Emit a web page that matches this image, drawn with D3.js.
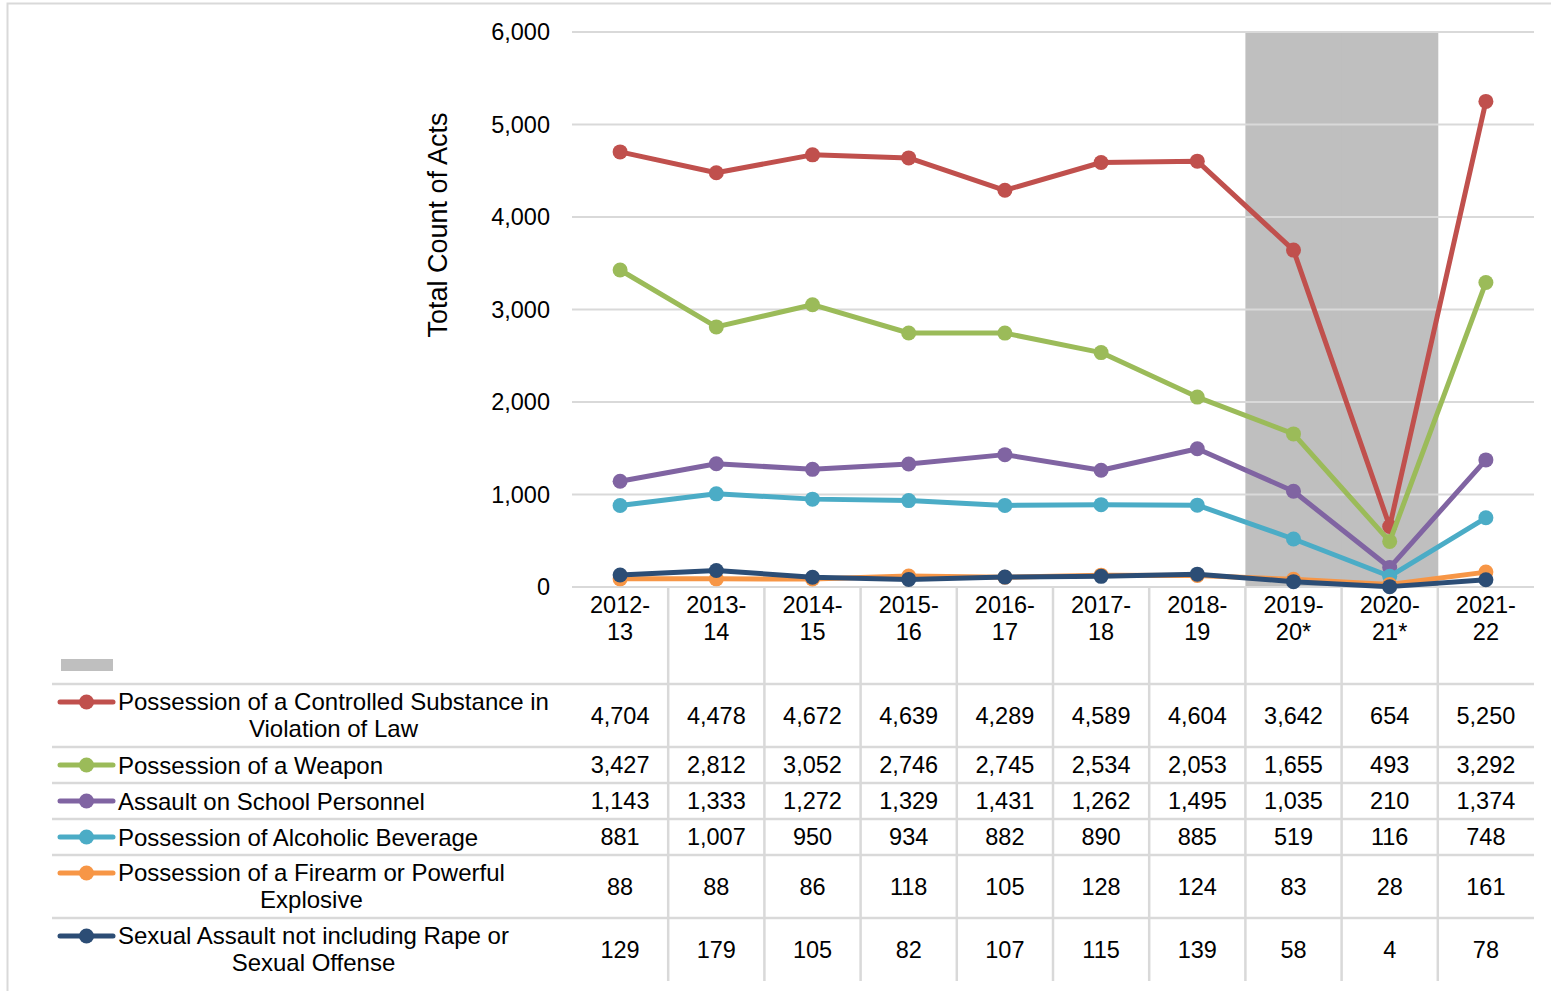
<!DOCTYPE html>
<html>
<head>
<meta charset="utf-8">
<title>Disciplinary acts by school year</title>
<script src="https://d3js.org/d3.v7.min.js"></script>
<style>
  body { margin: 0; background: #fff; }
  svg text { font-family: "Liberation Sans", Arial, sans-serif; fill: #000; }
</style>
</head>
<body>
<svg width="1551" height="991"></svg>
<script>
// school years (x categories)
var years = ["2012-13", "2013-14", "2014-15", "2015-16", "2016-17",
             "2017-18", "2018-19", "2019-20*", "2020-21*", "2021-22"];

// series names
var names = [
  "Possession of a Controlled Substance in Violation of Law",
  "Possession of a Weapon",
  "Assault on School Personnel",
  "Possession of Alcoholic Beverage",
  "Possession of a Firearm or Powerful Explosive",
  "Sexual Assault not including Rape or Sexual Offense"
];

// series values
var substance = [4704, 4478, 4672, 4639, 4289, 4589, 4604, 3642, 654, 5250];
var weapon    = [3427, 2812, 3052, 2746, 2745, 2534, 2053, 1655, 493, 3292];
var assault   = [1143, 1333, 1272, 1329, 1431, 1262, 1495, 1035, 210, 1374];
var alcohol   = [881, 1007, 950, 934, 882, 890, 885, 519, 116, 748];
var firearm   = [88, 88, 86, 118, 105, 128, 124, 83, 28, 161];
var sexual    = [129, 179, 105, 82, 107, 115, 139, 58, 4, 78];

// gray shaded bar series (COVID years)
var shaded = [0, 0, 0, 0, 0, 0, 0, 6000, 6000, 0];

var yTicks = [0, 1000, 2000, 3000, 4000, 5000, 6000];

var colors = ["#C0504D", "#9BBB59", "#8064A2", "#4BACC6", "#F79646", "#2C4D75"];
var series = [substance, weapon, assault, alcohol, firearm, sexual];

var svg = d3.select("svg");
var grid = "#D9D9D9";
var fs = 23.5;
var labFs = 24;

// outer chart border
svg.append("rect")
    .attr("x", 7.5).attr("y", 3.5)
    .attr("width", 1600).attr("height", 1100)
    .attr("fill", "none").attr("stroke", grid).attr("stroke-width", 2);

var x = d3.scaleBand().domain(years).range([572, 1534]).padding(0);
var y = d3.scaleLinear().domain([0, 6000]).range([587, 32]);

// shaded bars
svg.append("g").selectAll("rect")
  .data(years.map(function(d, i) { return {year: d, v: shaded[i]}; }).filter(function(d) { return d.v > 0; }))
  .enter().append("rect")
    .attr("x", function(d) { return x(d.year); })
    .attr("y", function(d) { return y(d.v); })
    .attr("width", x.bandwidth() + 0.5)
    .attr("height", function(d) { return y(0) - y(d.v); })
    .attr("fill", "#BFBFBF");

// gridlines
svg.append("g").selectAll("line")
  .data(yTicks)
  .enter().append("line")
    .attr("x1", 572).attr("x2", 1534)
    .attr("y1", function(d) { return y(d); })
    .attr("y2", function(d) { return y(d); })
    .attr("stroke", grid).attr("stroke-width", 2);

// y tick labels
svg.append("g").selectAll("text")
  .data(yTicks)
  .enter().append("text")
    .attr("x", 550)
    .attr("y", function(d) { return y(d); })
    .attr("dy", "0.35em")
    .attr("text-anchor", "end")
    .style("font-size", fs + "px")
    .text(d3.format(","));

// y axis title
svg.append("text")
    .attr("transform", "translate(447,225) rotate(-90)")
    .attr("text-anchor", "middle")
    .style("font-size", "27px")
    .text("Total Count of Acts");

// category labels
var cat = svg.append("g").selectAll("text")
  .data(years)
  .enter().append("text")
    .attr("text-anchor", "middle")
    .style("font-size", fs + "px");
cat.append("tspan")
    .attr("x", function(d) { return x(d) + x.bandwidth() / 2; })
    .attr("y", 613)
    .text(function(d) { return d.split("-")[0] + "-"; });
cat.append("tspan")
    .attr("x", function(d) { return x(d) + x.bandwidth() / 2; })
    .attr("y", 640)
    .text(function(d) { return d.split("-")[1]; });

// ---- data table ----
var tbl = svg.append("g");

// legend key for shaded series
tbl.append("rect")
    .attr("x", 61).attr("y", 659)
    .attr("width", 52).attr("height", 12)
    .attr("fill", "#BFBFBF");

// wrap labels into lines
var measure = svg.append("text").style("font-size", labFs + "px");
function wrap(str, maxW) {
  var words = str.split(" "), lines = [], cur = "";
  words.forEach(function(w) {
    var t = cur ? cur + " " + w : w;
    measure.text(t);
    if (measure.node().getComputedTextLength() > maxW && cur) {
      lines.push(cur);
      cur = w;
    } else cur = t;
  });
  lines.push(cur);
  return lines;
}

var rowTop = 684;
var rows = names.map(function(n) {
  var lines = wrap(n, 445);
  var h = 36 + 27 * (lines.length - 1);
  var r = {lines: lines, y0: rowTop, h: h};
  rowTop += h;
  return r;
});
measure.remove();
var tableBottom = rowTop;

// horizontal lines
var hl = [684].concat(rows.map(function(r) { return r.y0 + r.h; }));
tbl.selectAll("line.h")
  .data(hl.slice(0, hl.length - 1))
  .enter().append("line")
    .attr("class", "h")
    .attr("x1", 52).attr("x2", 1534)
    .attr("y1", function(d) { return d; })
    .attr("y2", function(d) { return d; })
    .attr("stroke", grid).attr("stroke-width", 2.5);

// vertical lines
tbl.selectAll("line.v")
  .data(years.slice(1))
  .enter().append("line")
    .attr("class", "v")
    .attr("x1", function(d) { return x(d); })
    .attr("x2", function(d) { return x(d); })
    .attr("y1", 587).attr("y2", tableBottom)
    .attr("stroke", grid).attr("stroke-width", 2.5);

rows.forEach(function(r, k) {
  var firstY = r.y0 + 18;
  // legend key
  tbl.append("line")
      .attr("x1", 60).attr("x2", 113)
      .attr("y1", firstY).attr("y2", firstY)
      .attr("stroke", colors[k]).attr("stroke-width", 5)
      .attr("stroke-linecap", "round");
  tbl.append("circle")
      .attr("cx", 86.5).attr("cy", firstY).attr("r", 7.5)
      .attr("fill", colors[k]);

  // label
  var lab = tbl.append("text").style("font-size", labFs + "px");
  if (r.lines.length > 1) {
    lab.text(r.lines[0]);
    var w = lab.node().getComputedTextLength();
    lab.text(null).attr("text-anchor", "middle");
    r.lines.forEach(function(l, j) {
      lab.append("tspan")
          .attr("x", 118 + w / 2)
          .attr("y", firstY + 27 * j)
          .attr("dy", "0.35em")
          .text(l);
    });
  } else {
    lab.attr("x", 118).attr("y", firstY + 1).attr("dy", "0.35em").text(r.lines[0]);
  }

  // values
  tbl.selectAll(null)
    .data(series[k])
    .enter().append("text")
      .attr("x", function(d, i) { return x(years[i]) + x.bandwidth() / 2; })
      .attr("y", r.y0 + r.h / 2)
      .attr("dy", "0.35em")
      .attr("text-anchor", "middle")
      .style("font-size", fs + "px")
      .text(d3.format(","));
});

// lines and markers
var line = d3.line()
    .x(function(d, i) { return x(years[i]) + x.bandwidth() / 2; })
    .y(function(d) { return y(d); });

series.forEach(function(s, k) {
  var g = svg.append("g");
  g.append("path")
      .datum(s)
      .attr("d", line)
      .attr("fill", "none")
      .attr("stroke", colors[k])
      .attr("stroke-width", 5)
      .attr("stroke-linejoin", "round");
  g.selectAll("circle")
    .data(s)
    .enter().append("circle")
      .attr("cx", function(d, i) { return x(years[i]) + x.bandwidth() / 2; })
      .attr("cy", function(d) { return y(d); })
      .attr("r", 7.5)
      .attr("fill", colors[k]);
});
</script>
</body>
</html>
